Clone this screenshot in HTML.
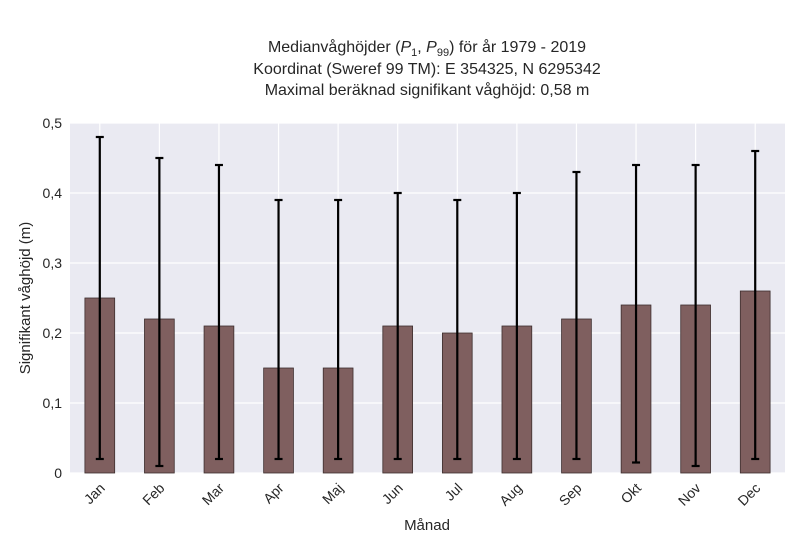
<!DOCTYPE html>
<html><head><meta charset="utf-8"><style>
body{margin:0;background:#fff;font-family:"Liberation Sans","DejaVu Sans",sans-serif;}
</style></head><body>
<svg id="chart" width="800" height="550" xmlns="http://www.w3.org/2000/svg" font-family="Liberation Sans, DejaVu Sans, sans-serif">
<g font-size="16" fill="#262626" text-anchor="middle">
<text x="427" y="52">Medianvåghöjder (<tspan font-style="italic">P</tspan><tspan font-size="11" dy="4">1</tspan><tspan dy="-4">, </tspan><tspan font-style="italic">P</tspan><tspan font-size="11" dy="4">99</tspan><tspan dy="-4">) för år 1979 - 2019</tspan></text>
<text x="427" y="74">Koordinat (Sweref 99 TM): E 354325, N 6295342</text>
<text x="427" y="95">Maximal beräknad signifikant våghöjd: 0,58 m</text>
</g>
<rect x="70" y="123" width="715" height="350" fill="#eaeaf2"/>
<g id="grid"></g>
<g id="bars"></g>
<g id="xt"></g>
<g id="yt"></g>
<text x="427" y="530" font-size="15" text-anchor="middle" fill="#262626">Månad</text>
<text transform="translate(30,298) rotate(-90)" font-size="15" text-anchor="middle" fill="#262626">Signifikant våghöjd (m)</text>
</svg>
<script>
const months=["Jan","Feb","Mar","Apr","Maj","Jun","Jul","Aug","Sep","Okt","Nov","Dec"];
const medians=[0.25,0.22,0.21,0.15,0.15,0.21,0.20,0.21,0.22,0.24,0.24,0.26];
const p99=[0.48,0.45,0.44,0.39,0.39,0.40,0.39,0.40,0.43,0.44,0.44,0.46];
const p1=[0.02,0.01,0.02,0.02,0.02,0.02,0.02,0.02,0.02,0.015,0.01,0.02];
const yTicks=[0,0.1,0.2,0.3,0.4,0.5];
const yTickLabels=["0","0,1","0,2","0,3","0,4","0,5"];
const NS="http://www.w3.org/2000/svg";
const L=70,R=785,T=123,B=473,ymax=0.5;
const step=(R-L)/months.length;
const xc=i=>L+step*(i+0.5);
const y=v=>B-(v/ymax)*(B-T);
function mk(tag,attrs,parent){const e=document.createElementNS(NS,tag);for(const k in attrs)e.setAttribute(k,attrs[k]);parent.appendChild(e);return e;}
const grid=document.getElementById('grid'),bars=document.getElementById('bars'),xt=document.getElementById('xt'),yt=document.getElementById('yt');
yTicks.forEach((v,i)=>{
 const g=mk('line',{x1:L,x2:R,y1:y(v),y2:y(v),stroke:'#fff','stroke-width':1.2},grid);
 
 
 const t=mk('text',{x:L-8,y:y(v)+5,'font-size':14,'text-anchor':'end',fill:'#262626'},yt);
 t.textContent=yTickLabels[i];
 
 
});
months.forEach((m,i)=>{
 const x=xc(i);
 const g=mk('line',{x1:x,x2:x,y1:T,y2:B,stroke:'#fff','stroke-width':1.2},grid);
 
 
 const bw=step*0.5;
 const b=mk('rect',{x:x-bw/2,y:y(medians[i]),width:bw,height:B-y(medians[i]),fill:'#7f5f5f',stroke:'#3d2e2e','stroke-width':0.8},bars);
 
 
 const e=mk('g',{stroke:'#000','stroke-width':2.2},bars);
 
 
 mk('line',{x1:x,x2:x,y1:y(p99[i]),y2:y(p1[i])},e);
 mk('line',{x1:x-4,x2:x+4,y1:y(p99[i]),y2:y(p99[i])},e);
 mk('line',{x1:x-4,x2:x+4,y1:y(p1[i]),y2:y(p1[i])},e);
 const t=mk('text',{transform:`translate(${x+6},${B+16}) rotate(-45)`,'font-size':14,'text-anchor':'end',fill:'#262626'},xt);
 t.textContent=m;
 
 
});
</script>
</body></html>
